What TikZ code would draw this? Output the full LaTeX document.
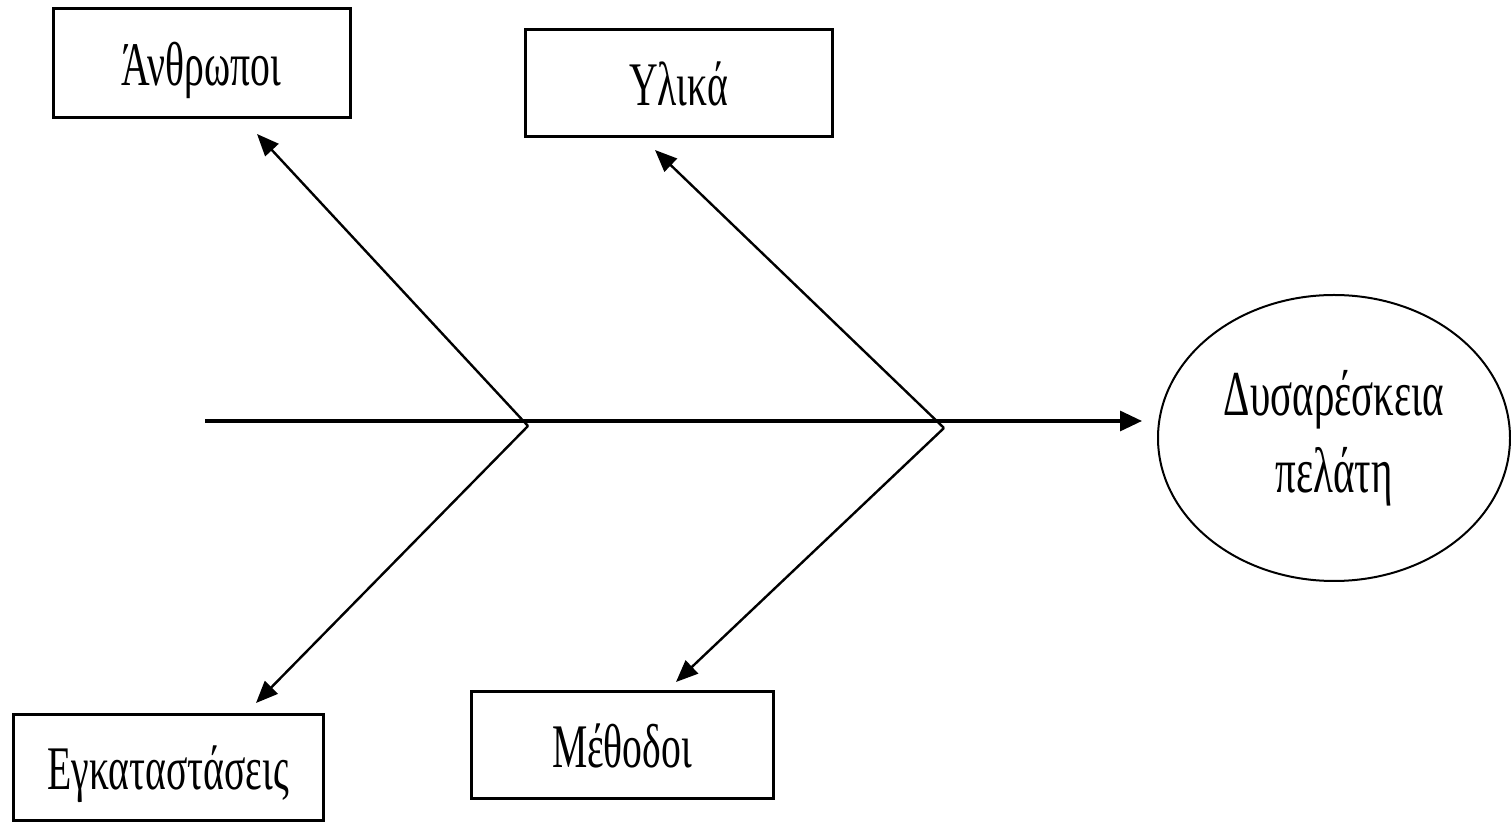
\documentclass[tikz,border=0pt]{standalone}
\usepackage{fontspec}
\setmainfont{Liberation Serif}[FakeStretch=0.64]
\usetikzlibrary{shapes.geometric,arrows.meta}
\begin{document}
\begin{tikzpicture}[x=0.5pt,y=-0.5pt,
  catbox/.style={draw,line width=1.5pt,rectangle,inner sep=0pt,
    text height=22pt,text depth=0pt,
    font=\fontsize{31pt}{38pt}\selectfont},
  effect/.style={draw,line width=1pt,ellipse,inner sep=0pt,
    minimum width=176pt,minimum height=143pt,align=center,
    font=\fontsize{32pt}{38.5pt}\selectfont},
  bone/.style={line width=1.2pt,-{Triangle[length=11pt,width=9pt]}},
  spine/.style={line width=1.6pt,-{Triangle[length=11pt,width=10pt]}}]
\useasboundingbox (0,0) rectangle (1511,822);
% boxes
\node[catbox,minimum width=148.5pt,minimum height=54.5pt] (people) at (201.5,63.5) {Άνθρωποι};
\node[catbox,minimum width=153.5pt,minimum height=53.5pt] (materials) at (678.5,83.5) {Υλικά};
\node[catbox,minimum width=155pt,minimum height=53pt] (facilities) at (168,768) {Εγκαταστάσεις};
\node[catbox,minimum width=151pt,minimum height=53.5pt] (methods) at (622,745.5) {Μέθοδοι};
\node[effect] (effectnode) at (1334,438) {Δυσαρέσκεια\\πελάτη};
% coordinates
\coordinate (tail) at (205,421);
\coordinate (head) at (1142,421);
\coordinate (j1) at (528,426);
\coordinate (j2) at (944,428);
\coordinate (tPeople) at (257,134);
\coordinate (tMaterials) at (655,150);
\coordinate (tFacilities) at (256,703);
\coordinate (tMethods) at (676,682);
% spine
\draw[spine] (tail) -- (head);
% bones
\draw[bone] (j1) -- (tPeople);
\draw[bone] (j1) -- (tFacilities);
\draw[bone] (j2) -- (tMaterials);
\draw[bone] (j2) -- (tMethods);
\end{tikzpicture}
\end{document}
